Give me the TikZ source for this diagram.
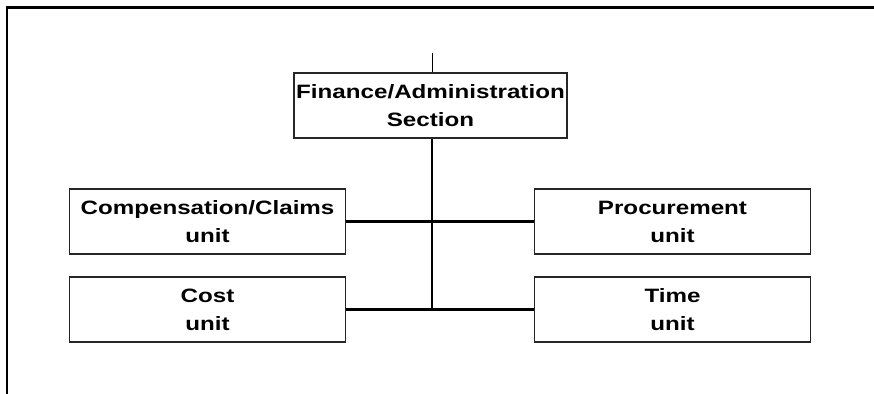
\documentclass[tikz,border=0pt]{standalone}
\usepackage{fontspec}
\setmainfont{Liberation Sans}[FakeStretch=1.25]
\begin{document}
\begin{tikzpicture}[x=0.75pt,y=-0.75pt,
    unitbox/.style={draw=black!85,line width=1.1pt,fill=white,minimum width=207pt,minimum height=48.5pt,align=center,font=\bfseries\fontsize{14.5}{21}\selectfont,inner sep=0pt},
    link/.style={line width=1.6pt}]
    \useasboundingbox (0,0) rectangle (874,393);
    \draw[line width=2pt] (7,400) -- (7,7.5) -- (880,7.5);
    \node[unitbox,minimum width=204.5pt] (fin) at (430.5,105.5) {Finance/Administration\\Section};
    \node[unitbox] (comp) at (207.5,221.5) {Compensation/Claims\\unit};
    \node[unitbox] (proc) at (672.5,221.5) {Procurement\\unit};
    \node[unitbox] (cost) at (207.5,309.5) {Cost\\unit};
    \node[unitbox] (time) at (672.5,309.5) {Time\\unit};
    \coordinate (top) at (432,53);
    \draw[line width=0.7pt] (top) -- (top |- fin.north);
    \draw[link] (top |- fin.south) -- (top |- cost.east);
    \draw[link] (comp.east) -- (proc.west);
    \draw[link] (cost.east) -- (time.west);
\end{tikzpicture}
\end{document}
